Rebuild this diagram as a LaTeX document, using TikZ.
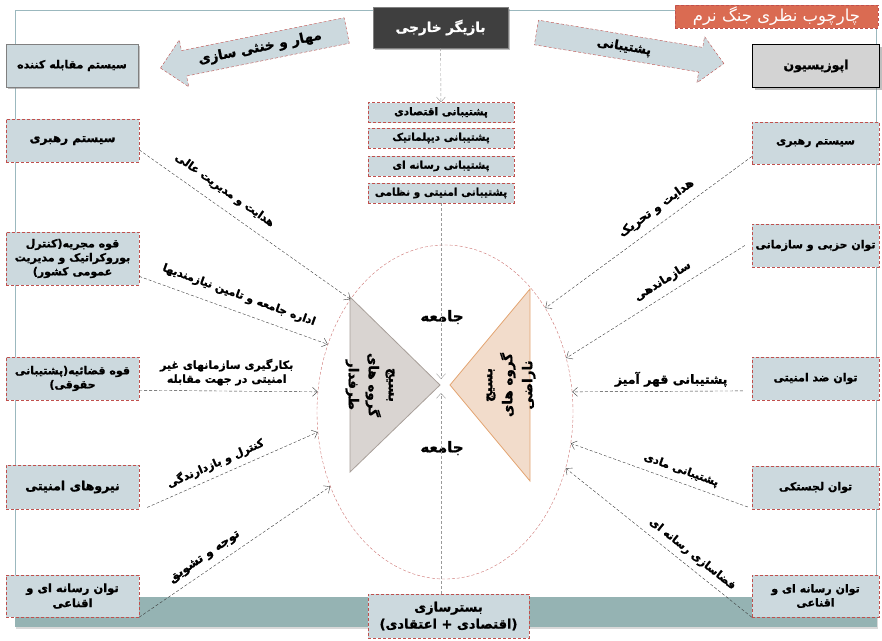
\documentclass[tikz,border=0pt]{standalone}
\usepackage{fontspec}
\newfontfamily\arabicfont[Script=Arabic, BoldFeatures={FakeBold=1.2}]{DejaVu Sans}
\TeXXeTstate=1
\usetikzlibrary{shapes.geometric,shapes.arrows,arrows.meta,shadows}
\newcommand{\rl}[1]{\beginR #1\endR}
\newcommand{\fs}[1]{\fontsize{#1}{#1}\selectfont}

\definecolor{boxfill}{HTML}{CCD9DE}
\definecolor{boxline}{HTML}{C0504D}
\definecolor{framecol}{HTML}{9BB8BE}
\definecolor{bandcol}{HTML}{95B3B3}
\definecolor{titlefill}{HTML}{DA6B52}
\definecolor{actorfill}{HTML}{3F3F3F}
\definecolor{oppfill}{HTML}{D3D3D3}
\definecolor{leftfill}{HTML}{D9D4D1}
\definecolor{leftline}{HTML}{A89F99}
\definecolor{rightfill}{HTML}{F2DCCB}
\definecolor{rightline}{HTML}{E3A471}
\definecolor{linkcol}{HTML}{3A3A3A}
\definecolor{feedcol}{HTML}{9A9A9A}

\begin{document}
\begin{tikzpicture}[x=1pt, y=-1pt,
	txt/.style={font=\arabicfont\bfseries\fontsize{11}{14}\selectfont},
	unit/.style={txt, draw=boxline, densely dashed, fill=boxfill, align=center, inner sep=2pt},
	side/.style={unit, minimum width=133, minimum height=43},
	aid/.style={unit, minimum width=146, minimum height=20, inner sep=0pt, font=\arabicfont\bfseries\fontsize{10.5}{13}\selectfont},
	head/.style={txt, draw=gray, fill=boxfill, minimum height=43, drop shadow={shadow xshift=2pt, shadow yshift=-2pt, opacity=0.5}},
	bigarrow/.style={txt, single arrow, draw=boxline, densely dashed, fill=boxfill, minimum height=190, inner ysep=6pt, single arrow head extend=11pt, single arrow head indent=0pt},
	grp/.style={font=\arabicfont\bfseries\fontsize{13.5}{20}\selectfont, align=center},
	link/.style={draw=linkcol, densely dashed, thin, ->},
	feed/.style={draw=feedcol, densely dashed, thin, ->},
	>={Straight Barb[length=5pt,width=9pt]}]
	\useasboundingbox (0,0) rectangle (882,640);

	% frame and band
	\draw[framecol, thick] (675,10) -- (15,10) -- (15,597);
	\draw[framecol, thick] (876,28) -- (876,597);
	\fill[bandcol, drop shadow={shadow xshift=1pt, shadow yshift=-2pt, opacity=0.3}] (15,597) rectangle (877,627);

	% title and actor
	\node[draw=boxline, densely dashed, fill=titlefill, text=white, font=\arabicfont\fontsize{16.5}{18}\selectfont, minimum width=203, minimum height=23, inner sep=0pt] (title) at (776.5,16.5) {\rl{چارچوب نظری جنگ نرم}};
	\node[txt, draw=gray, fill=actorfill, text=white, minimum width=135, minimum height=41, drop shadow={shadow xshift=2pt, shadow yshift=-2pt, opacity=0.5}] (actor) at (440.5,27.5) {\fs{13.5}\rl{بازیگر خارجی}};

	% block arrows
	\node[bigarrow, shape border rotate=180, rotate=11.4] (contain) at (260,48) {\fs{13.5}\rl{مهار و خنثی سازی}};
	\node[bigarrow, rotate=-9.4] (backing) at (624,47) {\fs{12.5}\rl{پشتیبانی}};

	% heads of the two sides
	\node[head, minimum width=132] (gov) at (72,65.5) {\rl{سیستم مقابله کننده}};
	\node[head, draw=black, fill=oppfill, minimum width=127] (opp) at (816,66) {\fs{12.5}\rl{اپوزیسیون}};

	% support boxes
	\node[aid] (s1) at (441,112.5) {\rl{پشتیبانی اقتصادی}};
	\node[aid] (s2) at (441,138) {\rl{پشتیبانی دیپلماتیک}};
	\node[aid] (s3) at (441,166) {\rl{پشتیبانی رسانه ای}};
	\node[aid] (s4) at (441,193) {\rl{پشتیبانی امنیتی و نظامی}};
	\node[unit, minimum width=161, minimum height=44, font=\arabicfont\bfseries\fontsize{13}{17}\selectfont, inner sep=1pt] (bed) at (448.5,616) {\rl{بسترسازی}\\\rl{(اقتصادی + اعتقادی)}};

	% society
	\node[draw=boxline!80, densely dashed, ellipse, minimum width=256, minimum height=334, inner sep=0pt] (soc) at (445,412) {};
	\draw[fill=leftfill, draw=leftline, thick] (350,297) -- (440,385) -- (350,472) -- cycle;
	\draw[fill=rightfill, draw=rightline, thick] (530,289) -- (450,385) -- (530,481) -- cycle;
	\node[grp, rotate=-90] (pro) at (370,385) {\rl{بسیج}\\\rl{گروه های}\\\rl{طرفدار}};
	\node[grp, rotate=90] (con) at (511,385) {\rl{بسیج}\\\rl{گروه های}\\\rl{ناراضی}};
	\node[txt] (soc1) at (442,317) {\fs{15}\rl{جامعه}};
	\node[txt] (soc2) at (442,448) {\fs{15}\rl{جامعه}};
	\coordinate (hubtop) at (441,379);
	\coordinate (hubbot) at (441,393);

	% left side
	\node[side] (L1) at (72.5,140.5) {\fs{12}\rl{سیستم  رهبری}};
	\node[side, minimum height=53] (L2) at (72.5,258.5) {\rl{قوه مجریه(کنترل}\\\rl{بوروکراتیک و مدیریت}\\\rl{عمومی کشور)}};
	\node[side] (L3) at (72.5,378.5) {\rl{قوه قضائیه(پشتیبانی}\\\rl{حقوقی)}};
	\node[side, minimum height=44] (L4) at (72.5,487) {\fs{12.5}\rl{نیروهای امنیتی}};
	\node[side, minimum height=42, font=\arabicfont\bfseries\fontsize{11.5}{15}\selectfont] (L5) at (72.5,596) {\rl{توان رسانه ای و}\\\rl{اقناعی}};

	% right side
	\node[side, minimum width=127, minimum height=42] (R1) at (815.5,143) {\rl{سیستم رهبری}};
	\node[side, minimum width=127] (R2) at (815.5,245.5) {\rl{توان حزبی و سازمانی}};
	\node[side, minimum width=127] (R3) at (815.5,378.5) {\rl{توان ضد امنیتی}};
	\node[side, minimum width=127] (R4) at (815.5,487.5) {\rl{توان لجستکی}};
	\node[side, minimum width=127, minimum height=42] (R5) at (815.5,596) {\rl{توان رسانه ای و}\\\rl{اقناعی}};

	% external actor
	\draw[feed] (actor) -- (s1);
	\draw[feed] (s4) -- (hubtop);
	\draw[feed] (bed.north -| hubbot) -- (hubbot);

	% left links
	\draw[link] (L1.-8) -- (soc.130) node[txt, pos=0.36, sloped, above=7pt] {\rl{هدایت و مدیریت عالی}};
	\draw[link] (L2.-15.5) -- (soc.150) node[txt, pos=0.5, sloped, above=7pt] {\rl{اداره جامعه و تامین نیازمندیها}};
	\draw[link] (L3.-10.6) -- (soc.171) node[txt, pos=0.49, above=2pt, align=center] {\rl{بکارگیری سازمانهای غیر}\\\rl{امنیتی در جهت مقابله}};
	\draw[link] ([xshift=8pt]L4.-17) -- (soc.189) node[txt, pos=0.43, sloped, above=3pt] {\rl{کنترل و بازدارندگی}};
	\draw[link] (L5.south east) -- (soc.213) node[txt, pos=0.38, sloped, above=4pt] {\fs{12}\rl{توجه و تشویق}};

	% right links
	\draw[link] (R1.192.4) -- (soc.46) node[txt, pos=0.42, sloped, above=5pt] {\fs{12}\rl{هدایت و تحریک}};
	\draw[link] ([xshift=-7pt]R2.west) -- (soc.24) node[txt, pos=0.42, sloped, above=4pt] {\fs{11.5}\rl{سازماندهی}};
	\draw[link] ([xshift=-9pt]R3.191) -- (soc.9) node[txt, pos=0.42, above=1pt] {\fs{12.5}\rl{پشتیبانی قهر آمیز}};
	\draw[link] ([xshift=-4pt]R4.197) -- (soc.-14) node[txt, pos=0.4, sloped, above=3pt] {\rl{پشتیبانی مادی}};
	\draw[link] (R5.south west) -- (soc.-25.5) node[txt, pos=0.36, sloped, above=3pt] {\rl{فضاسازی رسانه ای}};
\end{tikzpicture}
\end{document}
